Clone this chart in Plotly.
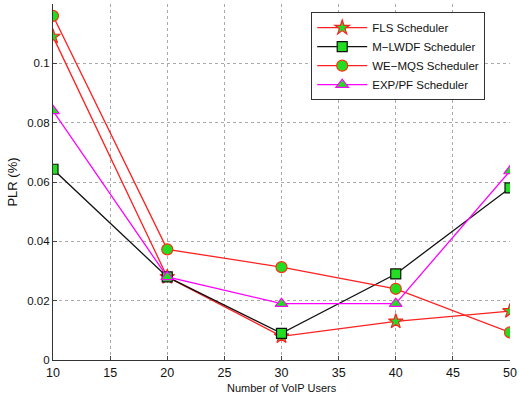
import plotly.graph_objects as go

users = [10, 20, 30, 40, 50]
fls = [0.109, 0.028, 0.008, 0.013, 0.0165]
mlwdf = [0.0643, 0.028, 0.009, 0.029, 0.058]
wemqs = [0.116, 0.0373, 0.0313, 0.024, 0.0093]
exppf = [0.084, 0.028, 0.019, 0.019, 0.0637]

x_ticks = [10, 15, 20, 25, 30, 35, 40, 45, 50]
y_ticks = [0, 0.02, 0.04, 0.06, 0.08, 0.1, 0.12]
y_tick_text = ["0", "0.02", "0.04", "0.06", "0.08", "0.1", "0.12"]

series = [
    ("FLS Scheduler", fls, "#ff2020", "star", "#ff2020", 11),
    ("M\u2212LWDF Scheduler", mlwdf, "#111111", "square", "#111111", 10),
    ("WE\u2212MQS Scheduler", wemqs, "#ff2020", "circle", "#ff3010", 11),
    ("EXP/PF Scheduler", exppf, "#ff00ff", "triangle-up", "#ff00ff", 11),
]

fig = go.Figure()
for name, vals, col, sym, edge, sz in series:
    fig.add_trace(go.Scatter(
        x=users, y=vals, name=name, mode="lines+markers",
        line=dict(color=col, width=1.3),
        marker=dict(symbol=sym, size=sz, color="#22dd22",
                    line=dict(color=edge, width=1.2)),
    ))

fig.add_annotation(
    text="Number of VoIP Users", xref="paper", yref="paper",
    x=0.5, y=-0.098, xanchor="center", yanchor="bottom", showarrow=False,
    font=dict(size=11, color="#111"), borderpad=0,
)

fig.update_layout(
    width=520, height=395,
    margin=dict(l=53, r=10, t=4, b=35),
    paper_bgcolor="white", plot_bgcolor="white",
    font=dict(family="Liberation Sans, Arial, sans-serif", size=11, color="#111"),
    showlegend=True,
    legend=dict(
        x=0.565, y=0.977, xanchor="left", yanchor="top",
        bgcolor="white", bordercolor="#333", borderwidth=1,
        font=dict(size=11.5, color="#111"),
        tracegroupgap=0, itemwidth=50,
    ),
    xaxis=dict(
        range=[10, 50], tickvals=x_ticks, ticks="inside", ticklen=4,
        showline=True, linecolor="#333", linewidth=1.2, mirror=False,
        showgrid=True, gridcolor="#aaa", griddash="dot", gridwidth=1,
        zeroline=False, ticklabelstandoff=1, automargin=False,
        tickfont=dict(size=12.5, color="#111"),
    ),
    yaxis=dict(
        range=[0, 0.12], tickvals=y_ticks, ticktext=y_tick_text,
        ticks="inside", ticklen=4,
        showline=True, linecolor="#333", linewidth=1.2, mirror=False,
        showgrid=True, gridcolor="#aaa", griddash="dot", gridwidth=1,
        zeroline=False, automargin=False,
        tickfont=dict(size=11.5, color="#111"),
        title=dict(text="PLR (%)", font=dict(size=13), standoff=6),
    ),
)

fig.write_html("out.html")
